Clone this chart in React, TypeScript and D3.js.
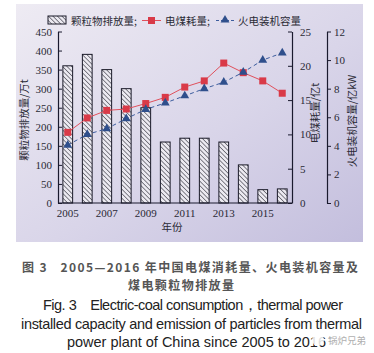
import * as d3 from 'd3';
import { useEffect, useRef } from 'react';

const years = ['2005', '2006', '2007', '2008', '2009', '2010', '2011', '2012', '2013', '2014', '2015', '2016'];
const particles = [360, 390, 350, 300, 250, 160, 170, 170, 160, 100, 35, 37]; // 万t
const coal = [10.3, 12.4, 13.5, 13.7, 14.5, 15.4, 16.9, 17.8, 20.4, 19.0, 17.8, 16.0]; // 亿t
const capacity = [4.05, 4.8, 5.2, 5.9, 6.55, 7.0, 7.5, 8.0, 8.45, 9.15, 10.0, 10.5]; // 亿kW
const xTickYears = ['2005', '2007', '2009', '2011', '2013', '2015'];
const leftTicks = [0, 50, 100, 150, 200, 250, 300, 350, 400, 450];
const coalTicks = [0, 5, 10, 15, 20, 25];
const capTicks = [0, 2, 4, 6, 8, 10, 12];

const serif = '"Liberation Serif", "DejaVu Serif", serif';
const cjk = '"Noto Sans CJK SC", sans-serif';
const nb = '\u00A0';

export default function App() {
  const svgRef = useRef(null);

  useEffect(() => {
    const svgEl = svgRef.current;
    if (!svgEl) return;
    const svg = d3.select(svgEl);
    svg.selectAll('*').remove();

    const width = 374;
    const height = 353;
    svg.attr('width', width).attr('height', height);

    const defs = svg.append('defs');
    const grad = defs
      .append('linearGradient')
      .attr('id', 'bg')
      .attr('x1', 0)
      .attr('y1', 0)
      .attr('x2', 1)
      .attr('y2', 1);
    grad.append('stop').attr('offset', '0%').attr('stop-color', '#eeebf3');
    grad.append('stop').attr('offset', '55%').attr('stop-color', '#d9d5e9');
    grad.append('stop').attr('offset', '100%').attr('stop-color', '#c3bedd');

    const pat = defs
      .append('pattern')
      .attr('id', 'hatch')
      .attr('patternUnits', 'userSpaceOnUse')
      .attr('width', 3.2)
      .attr('height', 3.2)
      .attr('patternTransform', 'rotate(-45)');
    pat.append('rect').attr('width', 3.2).attr('height', 3.2).attr('fill', '#eceaf1');
    pat
      .append('line')
      .attr('x1', 0)
      .attr('y1', 0)
      .attr('x2', 0)
      .attr('y2', 3.2)
      .attr('stroke', '#2a2a35')
      .attr('stroke-width', 1.1);

    // background panel
    svg
      .append('rect')
      .attr('x', 16)
      .attr('y', 4)
      .attr('width', 347)
      .attr('height', 238)
      .attr('fill', 'url(#bg)');

    const left = 58;
    const right = 292;
    const axis2 = 327;
    const bottom = 203;
    const top = 31.5;

    const x = d3.scaleBand().domain(years).range([left, right]).paddingInner(0.5).paddingOuter(0.25);
    const yL = d3.scaleLinear().domain([0, 450]).range([bottom, top]);
    const yC = d3.scaleLinear().domain([0, 25]).range([bottom, top]);
    const yK = d3.scaleLinear().domain([0, 12]).range([bottom, top]);
    const cx = (d: string) => (x(d) ?? 0) + x.bandwidth() / 2;

    const g = svg.append('g');

    // bars
    g.selectAll('rect.bar')
      .data(years)
      .join('rect')
      .attr('class', 'bar')
      .attr('x', (d) => x(d) ?? 0)
      .attr('y', (d, i) => yL(particles[i]))
      .attr('width', x.bandwidth())
      .attr('height', (d, i) => bottom - yL(particles[i]))
      .attr('fill', 'url(#hatch)')
      .attr('stroke', '#1a1a28')
      .attr('stroke-width', 1);

    // axes
    const axisColor = '#1a1a2e';
    const fontColor = '#2a2a35';
    const styleAxis = (sel: any) => {
      sel.select('.domain').attr('stroke', axisColor).attr('stroke-width', 1.2);
      sel.selectAll('.tick line').attr('stroke', axisColor).attr('stroke-width', 1);
      sel.selectAll('.tick text').attr('fill', fontColor).attr('font-family', serif).attr('font-size', 11);
    };

    const axL = g
      .append('g')
      .attr('transform', `translate(${left},0)`)
      .call(d3.axisLeft(yL).tickValues(leftTicks).tickSize(-4).tickSizeOuter(0).tickPadding(6));
    styleAxis(axL);

    const axC = g
      .append('g')
      .attr('transform', `translate(${right},0)`)
      .call(d3.axisRight(yC).tickValues(coalTicks).tickSize(-4).tickSizeOuter(0).tickPadding(8));
    styleAxis(axC);

    const axK = g
      .append('g')
      .attr('transform', `translate(${axis2},0)`)
      .call(d3.axisRight(yK).tickValues(capTicks).tickSize(4).tickSizeOuter(0).tickPadding(3));
    styleAxis(axK);

    const axX = g
      .append('g')
      .attr('transform', `translate(0,${bottom})`)
      .call(
        d3
          .axisBottom(x)
          .tickValues(xTickYears)
          .tickSize(0)
          .tickPadding(6)
      );
    styleAxis(axX);
    axX.select('.domain').attr('d', `M${left},0H${right}`);

    // coal line
    const coalLine = d3
      .line<number>()
      .x((d, i) => cx(years[i]))
      .y((d) => yC(d));
    g.append('path')
      .datum(coal)
      .attr('d', coalLine)
      .attr('fill', 'none')
      .attr('stroke', '#e0505c')
      .attr('stroke-width', 1);
    g.selectAll('rect.coal')
      .data(coal)
      .join('rect')
      .attr('class', 'coal')
      .attr('x', (d, i) => cx(years[i]) - 3.5)
      .attr('y', (d) => yC(d) - 3.5)
      .attr('width', 7)
      .attr('height', 7)
      .attr('fill', '#d93a48');

    // capacity line
    const capLine = d3
      .line<number>()
      .x((d, i) => cx(years[i]))
      .y((d) => yK(d));
    g.append('path')
      .datum(capacity)
      .attr('d', capLine)
      .attr('fill', 'none')
      .attr('stroke', '#3d5d9e')
      .attr('stroke-width', 1)
      .attr('stroke-dasharray', '4,3');
    const tri = d3.symbol().type(d3.symbolTriangle).size(34);
    g.selectAll('path.cap')
      .data(capacity)
      .join('path')
      .attr('class', 'cap')
      .attr('transform', (d, i) => `translate(${cx(years[i])},${yK(d)})`)
      .attr('d', tri)
      .attr('fill', '#2f4f8c');

    // axis titles
    g.append('text')
      .attr('transform', 'translate(28,120) rotate(-90)')
      .attr('text-anchor', 'middle')
      .attr('font-family', cjk)
      .attr('font-size', 10.5)
      .attr('fill', fontColor)
      .text('颗粒物排放量/万t');
    g.append('text')
      .attr('transform', 'translate(319,113) rotate(-90)')
      .attr('text-anchor', 'middle')
      .attr('font-family', cjk)
      .attr('font-size', 10.5)
      .attr('fill', fontColor)
      .text('电煤耗量/亿t');
    g.append('text')
      .attr('transform', 'translate(356,121) rotate(-90)')
      .attr('text-anchor', 'middle')
      .attr('font-family', cjk)
      .attr('font-size', 10.5)
      .attr('fill', fontColor)
      .text('火电装机容量/亿kW');
    g.append('text')
      .attr('x', 172)
      .attr('y', 231)
      .attr('text-anchor', 'middle')
      .attr('font-family', cjk)
      .attr('font-size', 10.5)
      .attr('fill', fontColor)
      .text('年份');

    // legend
    const lg = g.append('g');
    lg.append('rect')
      .attr('x', 48)
      .attr('y', 16)
      .attr('width', 18)
      .attr('height', 8)
      .attr('fill', 'url(#hatch)')
      .attr('stroke', '#1a1a28');
    lg.append('text')
      .attr('x', 71)
      .attr('y', 24.5)
      .attr('font-family', cjk)
      .attr('font-size', 10.5)
      .attr('fill', fontColor)
      .text('颗粒物排放量;');
    lg.append('line')
      .attr('x1', 142)
      .attr('x2', 161)
      .attr('y1', 20.5)
      .attr('y2', 20.5)
      .attr('stroke', '#e0505c');
    lg.append('rect').attr('x', 148).attr('y', 17).attr('width', 7).attr('height', 7).attr('fill', '#d93a48');
    lg.append('text')
      .attr('x', 165)
      .attr('y', 24.5)
      .attr('font-family', cjk)
      .attr('font-size', 10.5)
      .attr('fill', fontColor)
      .text('电煤耗量;');
    lg.append('line')
      .attr('x1', 216)
      .attr('x2', 234)
      .attr('y1', 20.5)
      .attr('y2', 20.5)
      .attr('stroke', '#3d5d9e')
      .attr('stroke-dasharray', '3,2');
    lg.append('path').attr('transform', 'translate(225,20)').attr('d', tri).attr('fill', '#2f4f8c');
    lg.append('text')
      .attr('x', 238)
      .attr('y', 24.5)
      .attr('font-family', cjk)
      .attr('font-size', 10.5)
      .attr('fill', fontColor)
      .text('火电装机容量');

    // caption
    const cap = svg.append('g');
    cap.append('text')
      .attr('x', 22)
      .attr('y', 272)
      .attr('textLength', 336)
      .attr('lengthAdjust', 'spacing')
      .attr('font-family', cjk)
      .attr('font-size', 12)
      .attr('font-weight', 600)
      .attr('fill', '#555')
      .text(`图${nb}3${nb}${nb}${nb}2005—2016${nb}年中国电煤消耗量、火电装机容量及`);
    cap.append('text')
      .attr('x', 128)
      .attr('y', 290)
      .attr('textLength', 106)
      .attr('lengthAdjust', 'spacing')
      .attr('font-family', cjk)
      .attr('font-size', 12)
      .attr('font-weight', 600)
      .attr('fill', '#555')
      .text('煤电颗粒物排放量');
    const en = '"Liberation Sans", Arial, sans-serif';
    cap.append('text')
      .attr('x', 43)
      .attr('y', 310)
      .attr('textLength', 300)
      .attr('lengthAdjust', 'spacing')
      .attr('font-family', en)
      .attr('font-size', 14.5)
      .attr('fill', '#222')
      .text(`Fig.${nb}3${nb}${nb}${nb}${nb}Electric-coal consumption，thermal power`);
    cap.append('text')
      .attr('x', 21)
      .attr('y', 329)
      .attr('textLength', 341)
      .attr('lengthAdjust', 'spacing')
      .attr('font-family', en)
      .attr('font-size', 14.5)
      .attr('fill', '#222')
      .text('installed capacity and emission of particles from thermal');
    cap.append('text')
      .attr('x', 67)
      .attr('y', 347)
      .attr('textLength', 259)
      .attr('lengthAdjust', 'spacing')
      .attr('font-family', en)
      .attr('font-size', 14.5)
      .attr('fill', '#222')
      .text('power plant of China since 2005 to 2016');
    // watermark
    cap.append('circle').attr('cx', 318).attr('cy', 340).attr('r', 6).attr('fill', '#ffffff').attr('opacity', 0.85);
    cap.append('text')
      .attr('x', 328)
      .attr('y', 344)
      .attr('font-family', cjk)
      .attr('font-size', 9.5)
      .attr('fill', '#b0b0b0')
      .text('锅炉兄弟');
  }, []);

  return (
    <div style={{ position: 'absolute', left: 0, top: 0 }}>
      <svg ref={svgRef} style={{ display: 'block' }} />
    </div>
  );
}
